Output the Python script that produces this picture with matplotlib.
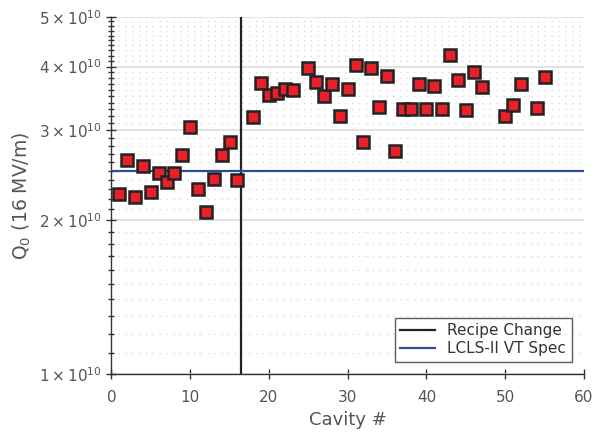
import numpy as np
import matplotlib
matplotlib.use('Agg')
import matplotlib.pyplot as plt
from matplotlib.ticker import FixedLocator, FixedFormatter, NullFormatter

# cavity number and Q0 at 16 MV/m (units of 1e10)
cavity = [1, 2, 3, 4, 5, 6, 7, 8, 9, 10, 11, 12, 13, 14, 15, 16,
          18, 19, 20, 21, 22, 23, 25, 26, 27, 28, 29, 30, 31, 32, 33, 34,
          35, 36, 37, 38, 39, 40, 41, 42, 43, 44, 45, 46, 47, 50, 51, 52,
          54, 55]
q0 = [2.25, 2.63, 2.22, 2.56, 2.27, 2.47, 2.38, 2.47, 2.69, 3.05, 2.30,
      2.08, 2.41, 2.68, 2.84, 2.40,
      3.19, 3.71, 3.51, 3.55, 3.61, 3.59, 3.97, 3.73, 3.50, 3.69, 3.20,
      3.61, 4.03, 2.84, 3.97, 3.33, 3.83, 2.73, 3.31, 3.30, 3.70, 3.30,
      3.67, 3.30, 4.21, 3.76, 3.29, 3.91, 3.65, 3.20, 3.37, 3.70, 3.32,
      3.81]
recipe_change = 16.5
vt_spec = 2.5e10

xticks = [0, 10, 20, 30, 40, 50, 60]
ymajor = [1e10, 2e10, 3e10, 4e10, 5e10]
ylabels = [r'$1\times10^{10}$', r'$2\times10^{10}$', r'$3\times10^{10}$',
           r'$4\times10^{10}$', r'$5\times10^{10}$']

plt.rcParams['font.family'] = 'DejaVu Sans'
txt = '#555555'
ax_col = '#333333'

fig = plt.figure(figsize=(5.94, 4.34), dpi=100)
ax = fig.add_axes([0.1877, 0.1382, 0.7953, 0.8226])

q = np.array(q0) * 1e10
ax.plot(cavity, q, 's', ms=9, mfc='#e8202a', mec='#222222', mew=1.8,
        zorder=5)
ax.axvline(recipe_change, color='#222222', lw=1.6, label='Recipe Change',
           zorder=3)
ax.axhline(vt_spec, color='#2e4a9e', lw=1.6, label='LCLS-II VT Spec',
           zorder=3)

ax.set_yscale('log')
ax.set_xlim(0, 60)
ax.set_ylim(1e10, 5e10)

# y ticks: majors at 1..5 e10, minors every 0.1e10
minors = [v * 1e9 for v in range(10, 51) if v % 10 != 0]
ax.yaxis.set_major_locator(FixedLocator(ymajor))
ax.yaxis.set_major_formatter(FixedFormatter(ylabels))
ax.yaxis.set_minor_locator(FixedLocator(minors))
ax.yaxis.set_minor_formatter(NullFormatter())
ax.set_xticks(xticks)

ax.grid(True, which='major', axis='y', color='#dddddd', lw=1.2, zorder=0)
ax.grid(True, which='minor', axis='y', color='#d4d4d4', lw=0.9,
        linestyle=(0, (1, 4.5)), zorder=0)
ax.set_axisbelow(True)

for s in ['top', 'right']:
    ax.spines[s].set_visible(False)
for s in ['left', 'bottom']:
    ax.spines[s].set_color(ax_col)
    ax.spines[s].set_linewidth(1.0)

ax.tick_params(axis='both', which='major', direction='inout', length=7,
               width=1, color=ax_col, labelcolor=txt, labelsize=11)
ax.tick_params(axis='y', which='minor', direction='inout', length=4,
               width=1, color=ax_col)
ax.tick_params(axis='x', pad=8)

ax.set_xlabel('Cavity #', color=txt, fontsize=13)
ax.set_ylabel(r'Q$_0$ (16 MV/m)', color=txt, fontsize=13.5)

leg = ax.legend(loc='lower right', fontsize=11, frameon=True, fancybox=False,
                edgecolor='#333333', borderaxespad=0.8, handlelength=2.3,
                labelspacing=0.2, borderpad=0.35)
leg.get_frame().set_linewidth(1.0)
for t in leg.get_texts():
    t.set_color('#333333')

fig.savefig('out.png', dpi=100)
